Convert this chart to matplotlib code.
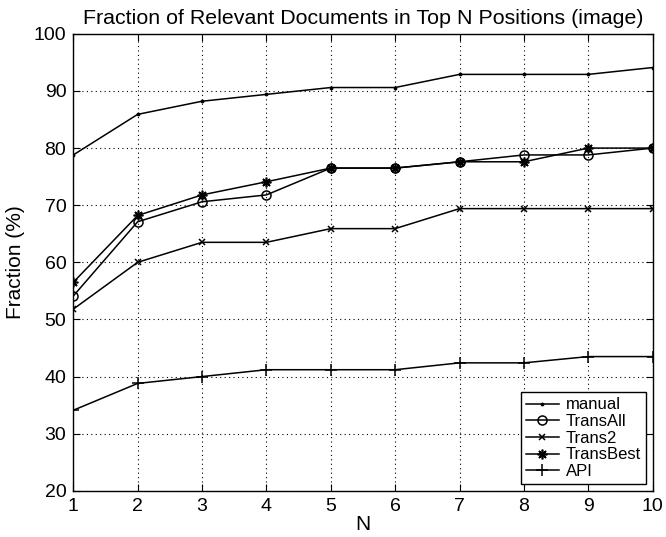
import numpy as np
import matplotlib
matplotlib.use('Agg')
import matplotlib.pyplot as plt

plt.rcParams['font.family'] = ['Liberation Sans', 'DejaVu Sans']

N = [1, 2, 3, 4, 5, 6, 7, 8, 9, 10]
manual = [78.8, 85.9, 88.2, 89.4, 90.6, 90.6, 92.9, 92.9, 92.9, 94.1]
trans_all = [54.1, 67.1, 70.6, 71.8, 76.5, 76.5, 77.6, 78.8, 78.8, 80.0]
trans2 = [51.8, 60.0, 63.5, 63.5, 65.9, 65.9, 69.4, 69.4, 69.4, 69.4]
trans_best = [56.5, 68.2, 71.8, 74.1, 76.5, 76.5, 77.6, 77.6, 80.0, 80.0]
api = [34.1, 38.8, 40.0, 41.2, 41.2, 41.2, 42.4, 42.4, 43.5, 43.5]

fig = plt.figure(figsize=(6.66, 5.37), dpi=100)
ax = fig.add_axes([0.110, 0.086, 0.870, 0.851])

# asterisk marker: 8 spokes, like '+' and 'x' on top of each other
asterisk = (8, 2, 0)

ax.plot(N, manual, '.-k', lw=1.1, ms=3.5, label='manual')
ax.plot(N, trans_all, '-ok', lw=1.1, ms=6.5, mfc='none', mew=1.1, label='TransAll')
ax.plot(N, trans2, '-xk', lw=1.1, ms=5, mew=1.1, label='Trans2')
ax.plot(N, trans_best, '-k', marker=asterisk, lw=1.1, ms=7, mew=1.2, label='TransBest')
ax.plot(N, api, '-+k', lw=1.1, ms=8, mew=1.1, label='API')

ax.set_xlim(1, 10)
ax.set_ylim(20, 100)
ax.set_xticks(N)
ax.set_yticks(np.arange(20, 101, 10))
ax.tick_params(direction='in', top=True, right=True, labelsize=14, length=5, pad=5)
ax.grid(True, color='k', linestyle=(0, (1, 3)), linewidth=0.8)
for s in ax.spines.values():
    s.set_linewidth(1.0)

ax.set_xlabel('N', fontsize=15, labelpad=0)
ax.set_ylabel('Fraction (%)', fontsize=15, labelpad=6)
ax.set_title('Fraction of Relevant Documents in Top N Positions (image)', fontsize=15.4, pad=7)

leg = ax.legend(loc='lower right', fontsize=12, fancybox=False, framealpha=1,
                edgecolor='k', handlelength=2.0, borderpad=0.3, labelspacing=0.1,
                handletextpad=0.4, borderaxespad=0.4)
leg.get_frame().set_linewidth(1.0)

fig.savefig('out.png', dpi=100)
